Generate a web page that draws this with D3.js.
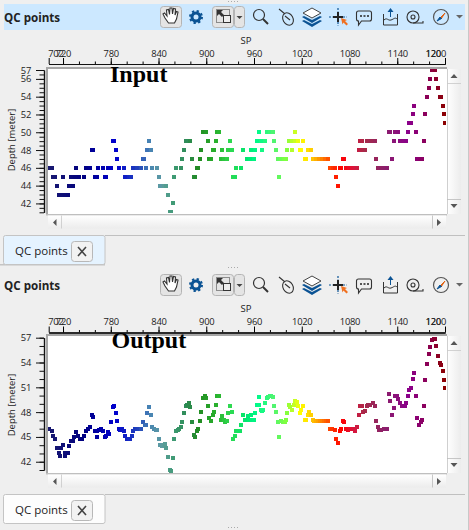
<!DOCTYPE html>
<html><head><meta charset="utf-8">
<script src="https://cdn.jsdelivr.net/npm/d3@7/dist/d3.min.js"></script>
<style>
html,body{margin:0;padding:0;background:#efefef;overflow:hidden}
svg{display:block}
text{font-family:"Open Sans",sans-serif;fill:#222}
.tick text{font-size:9.4px;letter-spacing:-.25px}
</style></head><body><svg id="c" width="469" height="530"></svg>
<script>
// ---- axis content ----
const xMajorTicks=[720,780,840,900,960,1020,1080,1140];
const xEndTicks=[702,1200];
const inputYTicks=[42,44,46,48,50,52,54,56,57];
const outputYTicks=[42,45,48,51,54,57];
const colorStops=[703,745,785,815,828,845,860,875,890,915,930,950,965,985,1000,1012,1018,1030,1040,1055,1070,1085,1100,1125,1155,1180,1200];
const colorValues=["#191970","#000080","#0000cd","#2244bb","#4682b4","#5f9ea0","#3c9a70","#2e8b57","#228b22","#2ab52f","#2ed950","#00e870","#00fa8a","#50f570","#7fff40","#d0ff20","#ffff00","#ffd700","#ffa500","#ff4500","#ff0000","#dc143c","#a52a4a","#8b1f6b","#8b008b","#8b0050","#8b0000"];

// ---- Input: integer depths, shot points per depth row ----
const inputDepthRows=[57,56,55,54,53,52,51,50,49,48,47,46,45,44,43,42,41];
const inputSPRows=[
[1184,1187.6],
[1181,1189],
[1180,1191.4],
[1177.5,1194,1195],
[1161,1197.7],
[1160,1175,1199],
[1155,1157,1200],
[896,899.5,913,916,966,976,980,984,1011,1130,1131,1137,1141,1154,1164],
[782.5,784,828,874,879,902,912,930,964,969,974,985,1004,1008,1011,1015,1021.6,1093,1096,1102,1107,1112,1136,1144,1147.3,1151,1174],
[756,757.4,786,825,830,872,893,908,910,920,927,932,946,956,961,970,988,1001,1008,1018,1019,1028,1031.6,1092,1096,1099.5],
[787.6,820,821.5,869,882,892,903,906,918,922,926,951,955,960,990,994,998,1000,1024,1025,1034,1038,1042,1045.5,1049,1053,1072,1073,1113,1133.5,1165,1169,1171],
[703,706,736,749,754,764,770,776,780,790,796,808,813,818,824,832,838,862,868,888,889.5,937,944,1055.5,1059,1062,1068,1069,1075.6,1079,1083,1087,1089.5,1116,1120,1123.5,1127],
[708,710,720,730,735,740,746,760,762.4,772.5,774,798,803,806,840,859,884,886,933.5,936,991,1063],
[712,728,732,842,847,850,1065.6],
[715,718,722,726,852],
[858],
[854,855.5]
];

// ---- Output: smoothed depths ----
const outputSP=[703,706,708,710,712,715,716,718,720,722,723,726,728,730,732,733.5,736,738.5,741,743.5,746,748.6,751,753.6,756,757.4,760,762.4,762.4,765,767.4,770,772.5,773.7,776,777.5,780,782.5,783.8,786.3,787.6,790,791.3,794,796.4,797.6,800,802.6,804,806.4,807.7,810,812.7,815,818,820,823,824,825,828,830,832,834,837,838,840,842,844,847,848,850,852,854,855.5,858,859,862,864,865.5,868,869,872,874,876,877,878,879,882,884,886,888,889.5,892,893,896,898,899.5,902,903,906,908,910,912,913,916,918,920,922,923,926,927,930,932,933.5,936,937,940,942,943.5,946,949,952.4,953.6,956,957.4,960,961,964,966,966,969,970,971,974,976,978,980,981,984,985,988,990,991,994,996,999,1000,1001,1004,1005,1008,1010,1011,1014,1015,1018,1019,1021.6,1024,1025,1028,1029,1031.6,1034,1035,1038,1040.4,1043,1045.5,1048,1050.5,1053,1055.5,1058,1062,1063,1065.6,1068,1069,1072,1073,1075.6,1078,1080.7,1083,1085.7,1087,1089.5,1092,1093,1095.8,1097,1099.5,1102,1103,1106,1109.6,1112,1113.4,1116,1117,1120,1123.5,1127,1129.7,1131,1133.5,1136,1137,1139.8,1141,1143.6,1146,1148.6,1150,1151,1153.6,1155,1157,1160,1161,1164,1165,1167.5,1170,1171,1174,1175,1177.5,1180,1181,1184,1186,1187.6,1189,1191.4,1194,1195,1197.7,1199,1200];
const outputDepth=[45.95,45.7,45.1,44.8,43.7,43,42.75,43.7,44,43.1,42.75,43,43.85,44.45,44.45,44.95,45.55,45.1,44.8,44.7,45.1,45.7,45.9,46.15,47.6,47.4,45.7,44.95,45.7,45.8,46,45.7,44.95,45.1,45.55,45.4,46.8,48.6,48.8,47.85,46.9,45.9,45.8,46,45.7,45.1,44.8,44.8,44.8,45.1,45.7,45.95,45.95,45.95,46,46.8,46.4,46.4,47.85,48.6,47.7,46.15,45.9,45.8,45.8,44.8,44,43.85,44,44.1,43.7,42.6,41.05,40.9,42.4,44.7,45.7,45.8,45.9,46.15,46.8,47.85,48.7,48.9,48.8,49.1,48.6,46.8,45.2,44.95,45.7,46,46.9,48,49.7,50,49.7,48.7,47.25,46.9,47.6,48,48.9,49.9,49.9,47.1,47.5,47,46.8,46.9,47.85,48.7,48,44.8,45.1,45.7,45.7,45.7,46.4,47.7,47,47.5,47.1,47.6,47,47,47.85,48.9,48.9,49.8,48.3,48.1,48.3,49.1,49.7,49.8,50,49.9,49.8,48.8,48,46.8,44.95,46.9,46.8,46.8,47,47.85,48.9,48.6,48.3,48.9,49.4,49.2,48.7,47.85,48.2,48.7,47,47,47.7,48,47.7,47,46.9,46.9,46.9,46.9,46.9,46.9,46.9,46.9,45.9,45.9,45.8,44.8,44.3,45.7,45.9,46.9,46.8,46,45.8,45.9,45.9,45.9,45.7,46.15,47.7,48.8,48.7,48,48.1,48.7,48.9,48.9,49.1,48.7,46.9,46.15,45.8,45.8,45.9,45.9,50.15,49.4,47.6,48.5,49.9,50,49.55,49.1,48.8,48.7,48.7,49.1,49.9,50.65,50.9,52,52.7,49.9,47.25,46.4,46.8,47.1,48.8,51.85,53.8,55,55.85,56.7,56.8,56.8,56,54.76,53.9,53.7,52.95,51.85,50.9];

const inputPoints=inputDepthRows.flatMap((d,i)=>inputSPRows[i].map(s=>[s,d]));
const outputPoints=outputSP.map((s,i)=>[s,outputDepth[i]]);

const svg=d3.select("#c");
const color=d3.scaleLinear().domain(colorStops).range(colorValues).clamp(true);
const x=d3.scaleLinear().domain([702,1200]).range([48.7,445]);

function rect(g,a,b,w,h,fill,extra){const r=g.append("rect").attr("x",a).attr("y",b).attr("width",w).attr("height",h).attr("fill",fill);
  if(extra)for(const k in extra)r.attr(k,extra[k]);return r;}

svg.append("defs").html(`<linearGradient id="hg" x1="0" y1="0" x2="0" y2="1"><stop offset="0" stop-color="#fff"/><stop offset="1" stop-color="#ececec"/></linearGradient>
<linearGradient id="vg" x1="0" y1="0" x2="1" y2="0"><stop offset="0" stop-color="#fff"/><stop offset="1" stop-color="#ececec"/></linearGradient>`);

function toolbar(cy){
  const g=svg.append("g").attr("transform",`translate(0,${cy})`);
  const btn=(a,w)=>rect(g,a+.5,-10.5,w,21,"#e4e4e4",{stroke:"#b4b4b4",rx:3});
  g.append("text").attr("x",4).attr("y",4.5).attr("font-size",11.6).attr("font-weight",700).text("QC points");
  btn(160,21);btn(212,21);btn(234,10);
  const s=g.append("g").attr("fill","none").attr("stroke","#333").attr("stroke-width",1.1);
  // hand
  s.append("path").attr("fill","#fff").attr("d","M165 1l-2-4 1.5-1 2.5 3-.5-6 2-.5 1 5 .5-6.500 2 0 .5 6 1-5.500 2 .5-.5 6 1.500-3.500 1.500 .5-1.500 7-2 4h-6z");
  // gear
  g.append("circle").attr("cx",196).attr("cy",0).attr("r",4).attr("fill","none").attr("stroke","#0b5394").attr("stroke-width",3);
  g.append("circle").attr("cx",196).attr("cy",0).attr("r",6).attr("fill","none").attr("stroke","#0b5394").attr("stroke-width",2).attr("stroke-dasharray","2.300 2.400");
  // select
  rect(g,216.5,-7.5,13,13,"none",{stroke:"#333","stroke-dasharray":"1 1"});
  rect(g,223.5,-1.500,7,7,"#eee",{stroke:"#333"});
  g.append("path").attr("d","M217 -7h6l-2 2 3 3-2 2-3-3-2 2z").attr("fill","#333");
  g.append("path").attr("d","M236.500 -1h6l-3 3z").attr("fill","#444");
  // magnifier
  s.append("circle").attr("cx",259).attr("cy",-2).attr("r",5.500).attr("stroke-width",1.2);
  s.append("path").attr("d","M263 2l5 5").attr("stroke-width",2);
  // mouse
  s.append("ellipse").attr("cx",288).attr("cy",2).attr("rx",5).attr("ry",6.500).attr("transform","rotate(-30 288 2)");
  s.append("path").attr("d","M279 -8l6 5M285 -1l5 4");
  // layers
  g.append("path").attr("d","M312 -9l9 5-9 5-9-5z").attr("fill","#fff").attr("stroke","#444");
  g.append("path").attr("d","M304 -1l8 4 8-4 2 1-10 6-10-6zM304 3l8 4 8-4 2 1-10 6-10-6z").attr("fill","#0b5394");
  // crosshair
  g.append("path").attr("d","M338 -9v18M329 0h18").attr("stroke","#0b5394").attr("stroke-width",1.2).attr("stroke-dasharray","2 1.500");
  g.append("path").attr("d","M338 -5v10M333 0h10").attr("stroke","#222").attr("stroke-width",2);
  g.append("path").attr("d","M341 1l6 2-2 1 3 3-1.500 1.500-3-3-1 2z").attr("fill","#f07020");
  // speech
  s.append("path").attr("d","M358.500 -6h11a2 2 0 0 1 2 2v6a2 2 0 0 1-2 2h-8l-3 4v-4a2 2 0 0 1-2-2v-6a2 2 0 0 1 2-2z");
  g.append("path").attr("d","M360 -1h2M363.500 -1h2M367 -1h2").attr("stroke","#222").attr("stroke-width",1.500);
  // upload
  s.append("path").attr("d","M383.500 -3v11h14v-11").attr("stroke-width",1);
  s.append("path").attr("d","M384 3c3-3 4 1 7 0s4-3 6-1").attr("stroke-width",1);
  g.append("path").attr("d","M390 0v-5h-2.500l3-4 3 4h-2.500v5z").attr("fill","#0b5394");
  // tape
  s.append("circle").attr("cx",413).attr("cy",0).attr("r",6);
  s.append("circle").attr("cx",413).attr("cy",0).attr("r",2);
  s.append("path").attr("d","M413 6h10v-2");
  // compass
  s.append("circle").attr("cx",441).attr("cy",0).attr("r",7.500).attr("stroke-width",1.200).attr("stroke","#555");
  g.append("path").attr("d","M445 -4l-3 3-2 2z M445 -4l-5 5 1 1z").attr("fill","#e06010").attr("stroke","#e06010");
  g.append("path").attr("d","M437 4l3-4 1.500 1.500z").attr("fill","#0b5394").attr("stroke","#0b5394");
  g.append("path").attr("d","M456 -2h7l-3.500 3.500z").attr("fill","#666");
}

function panel(cfg){
  const y=d3.scaleLinear().domain([57,41]).range(cfg.yRange);
  // frame + plot
  rect(svg,48,cfg.top,399,cfg.bottom-cfg.top,"#fff");
  rect(svg,46,cfg.top-2,401,2,"#a6a6a6");
  rect(svg,46,cfg.top-2,2,cfg.bottom-cfg.top+3,"#a6a6a6");
  rect(svg,46,cfg.bottom,401,1.500,"#bfbfbf");
  // x axis
  const xAxisY=cfg.axisY;
  const mk=svg.append("g").attr("transform",`translate(0,${xAxisY})`);
  const minor=d3.range(720,1200,20);
  mk.append("g").call(d3.axisTop(x).tickValues(minor).tickSize(2.500).tickFormat("").tickSizeOuter(0));
  mk.append("g").call(d3.axisTop(x).tickValues(xMajorTicks).tickSize(6).tickSizeOuter(0).tickFormat(d3.format("d")).tickPadding(1.5));
  const endAxis=mk.append("g").call(d3.axisTop(x).tickValues(xEndTicks).tickSize(6).tickSizeOuter(0).tickFormat(d3.format("d")).tickPadding(1.5));
  endAxis.selectAll(".tick text").attr("text-anchor",d=>d<800?"start":"end").attr("x",d=>d<800?-1:.5);
  endAxis.append("text").attr("x",441).attr("y",-7.5).attr("text-anchor","end").attr("font-size",9.4).attr("letter-spacing",-.25).attr("fill","#222").text("120");
  svg.selectAll(".domain").attr("stroke","#111").attr("stroke-width",1.2);
  svg.append("text").attr("x",246).attr("y",cfg.axisY-20.5).attr("text-anchor","middle").attr("font-size",9.5).text("SP");
  // y axis
  const ya=svg.append("g").attr("transform","translate(44,0)");
  ya.append("g").call(d3.axisLeft(y).tickValues(cfg.yMinor).tickSize(4.500).tickFormat("").tickSizeOuter(0));
  ya.append("g").call(d3.axisLeft(y).tickValues(cfg.yTicks).tickSize(8).tickSizeOuter(0).tickFormat(d3.format("d")).tickPadding(5));
  ya.selectAll(".tick line").attr("stroke","#111");
  svg.selectAll(".domain").attr("stroke","#111").attr("stroke-width",1.2);
  svg.append("text").attr("transform",`translate(15,${cfg.labelY}) rotate(-90)`).attr("text-anchor","middle").attr("font-size",9.5).text("Depth [meter]");
  // points
  const id="clip"+cfg.top;
  svg.append("clipPath").attr("id",id).append("rect").attr("x",48).attr("y",cfg.top).attr("width",398).attr("height",cfg.clipH);
  svg.append("g").attr("clip-path",`url(#${id})`).selectAll("rect").data(cfg.points).join("rect")
    .attr("x",d=>Math.round(x(d[0])-2)).attr("y",d=>Math.round(y(d[1])-2)).attr("width",4).attr("height",4)
    .attr("fill",d=>color(d[0]));
  // title overlay
  svg.append("text").attr("x",cfg.titleX).attr("y",cfg.titleY).attr("font-family","Liberation Serif").style("font-family","Liberation Serif").attr("font-weight",700).attr("font-size",24).attr("fill","#000").style("fill","#000").text(cfg.title);
  // scrollbars
  const by=cfg.bottom+1.500;
  rect(svg,48,by,398,13,"url(#hg)");
  rect(svg,61,by,.8,13,"#c8c8c8");rect(svg,432,by,.8,13,"#bbb");
  svg.append("path").attr("d",`M56.500 ${by+3.500}v7l-3.500-3.500z`).attr("fill","#555");
  svg.append("path").attr("d",`M437 ${by+3.500}v7l4-3.500z`).attr("fill","#555");
  rect(svg,447,cfg.top,14,cfg.bottom-cfg.top,"url(#vg)");
  rect(svg,447,cfg.top,.8,cfg.bottom-cfg.top,"#c4c4c4");
  rect(svg,447,cfg.top+14,14,.8,"#c8c8c8");rect(svg,447,cfg.bottom-15,14,.8,"#bbb");
  svg.append("path").attr("d",`M450.500 ${cfg.top+9}h7l-3.500-4z`).attr("fill","#555");
  svg.append("path").attr("d",`M450.500 ${cfg.bottom-10}h7l-3.500 4z`).attr("fill","#555");
  // tab
  rect(svg,105,cfg.tabTop,360,1,"#c0c0c0");
  rect(svg,3.500,cfg.tabTop+.5,101.500,cfg.tabH,cfg.tabFill,{stroke:"#c4c4c4",rx:2});
  svg.append("text").attr("x",15).attr("y",cfg.tabTop+20).attr("font-size",11.5).text("QC points");
  rect(svg,71.500,cfg.tabTop+6.500,21,20,"#f2f2f2",{stroke:"#b8b8b8",rx:3});
  svg.append("path").attr("d",`M78 ${cfg.tabTop+12}l8 9m0-9l-8 9`).attr("stroke","#444").attr("stroke-width",1.600).attr("fill","none");
}

// chrome
rect(svg,4,4,461,26,"#cce8ff");
rect(svg,468,0,1,530,"#c8c8c8");
rect(svg,0,264,105,1.500,"#c4c4c4");
const dots=[[228,1],[228,267],[228,527]];
dots.forEach(d=>[0,3,6,9].forEach(o=>rect(svg,d[0]+o,d[1],1,1,"#aaa")));

toolbar(17);toolbar(285);

panel({top:69,bottom:214,axisY:64,yRange:[70,212.3],yTicks:inputYTicks,yMinor:d3.range(41,57.01,.5),labelY:140,clipH:144,
  points:inputPoints,title:"Input",titleX:110,titleY:82,tabTop:235,tabH:29,tabFill:"#e5f3ff"});
panel({top:336,bottom:473,axisY:332.5,yRange:[337.7,470],yTicks:outputYTicks,yMinor:d3.range(41,57.01,1),labelY:405,clipH:137,
  points:outputPoints,title:"Output",titleX:111.500,titleY:348,tabTop:494,tabH:29,tabFill:"#fdfdfd"});
</script></body></html>
